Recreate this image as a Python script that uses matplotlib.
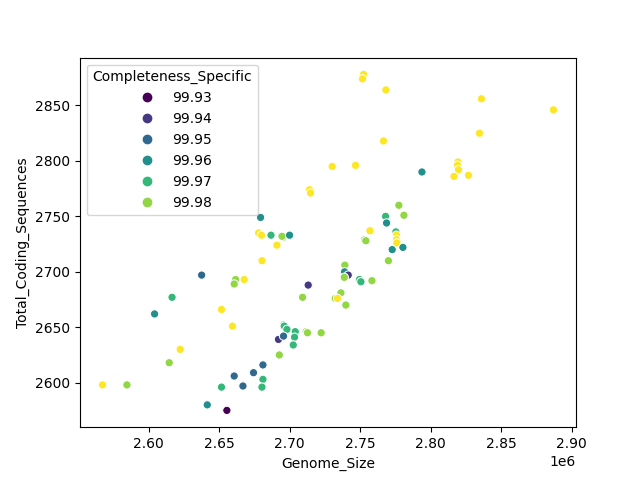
import numpy as np
import matplotlib
matplotlib.use("Agg")
import matplotlib.pyplot as plt
from matplotlib.lines import Line2D
from matplotlib.colors import Normalize

# genome size (bp), coding sequences, completeness
genome_size = [
    2567200, 2584500, 2604100, 2616500, 2651600, 2659400, 2622300, 2614500,
    2692000, 2692600, 2681000, 2674300, 2660600, 2666800, 2681000, 2680300,
    2651600, 2641500, 2655400, 2679300, 2677900, 2680000, 2686700, 2690900,
    2680300, 2637500, 2661600, 2660600, 2667700, 2714000, 2714800, 2695200,
    2694500, 2699900, 2713100, 2709100, 2777400, 2781000, 2768000, 2768700,
    2756900, 2753100, 2754000, 2775300, 2775700, 2775700, 2776000, 2772700,
    2780300, 2770000, 2739100, 2738900, 2741500, 2738700, 2749500, 2750500,
    2758300, 2736300, 2732300, 2733900, 2739800, 2695600, 2696100, 2698000,
    2695600, 2703900, 2703400, 2702500, 2711700, 2712600, 2722300, 2836000,
    2887100, 2834600, 2819300, 2819000, 2819700, 2816500, 2826800, 2793800,
    2752400, 2751600, 2768200, 2766500, 2730100, 2746700,
]
coding_seqs = [
    2598, 2598, 2662, 2677, 2666, 2651, 2630, 2618,
    2639, 2625, 2616, 2609, 2606, 2597, 2603, 2596,
    2596, 2580, 2575, 2749, 2735, 2733, 2733, 2724,
    2710, 2697, 2693, 2689, 2693, 2774, 2771, 2731,
    2732, 2733, 2688, 2677, 2760, 2751, 2750, 2744,
    2737, 2729, 2728, 2736, 2733, 2729, 2726, 2720,
    2722, 2710, 2706, 2700, 2697, 2695, 2693, 2691,
    2692, 2681, 2676, 2676, 2670, 2652, 2651, 2648,
    2642, 2646, 2641, 2634, 2646, 2645, 2645, 2856,
    2846, 2825, 2799, 2796, 2792, 2786, 2787, 2790,
    2878, 2874, 2864, 2818, 2795, 2796,
]
completeness = [
    99.99, 99.98, 99.96, 99.97, 99.99, 99.99, 99.99, 99.98,
    99.94, 99.98, 99.95, 99.95, 99.95, 99.95, 99.97, 99.97,
    99.97, 99.96, 99.93, 99.96, 99.99, 99.99, 99.97, 99.99,
    99.99, 99.95, 99.98, 99.98, 99.99, 99.99, 99.99, 99.98,
    99.98, 99.96, 99.94, 99.98, 99.98, 99.98, 99.97, 99.96,
    99.99, 99.98, 99.98, 99.97, 99.99, 99.99, 99.99, 99.96,
    99.96, 99.98, 99.98, 99.96, 99.94, 99.98, 99.97, 99.97,
    99.98, 99.98, 99.98, 99.99, 99.98, 99.97, 99.97, 99.97,
    99.95, 99.97, 99.97, 99.97, 99.98, 99.98, 99.98, 99.99,
    99.99, 99.99, 99.99, 99.99, 99.99, 99.99, 99.99, 99.96,
    99.99, 99.99, 99.99, 99.99, 99.99, 99.99,
]
legend_levels = [99.93, 99.94, 99.95, 99.96, 99.97, 99.98]

fig, ax = plt.subplots(figsize=(6.4, 4.8), dpi=100)
norm = Normalize(vmin=99.93, vmax=99.99)
cmap = plt.get_cmap("viridis")

ax.scatter(genome_size, coding_seqs, c=completeness, cmap=cmap, norm=norm,
           s=36, edgecolors="white", linewidths=0.75)

handles = [Line2D([], [], marker="o", linestyle="", markersize=6,
                  markerfacecolor=cmap(norm(v)), markeredgecolor=cmap(norm(v)),
                  label=f"{v:.2f}") for v in legend_levels]
ax.legend(handles=handles, title="Completeness_Specific", loc="upper left")

ax.set_xlabel("Genome_Size")
ax.set_ylabel("Total_Coding_Sequences")

fig.savefig("out.png", dpi=100)
